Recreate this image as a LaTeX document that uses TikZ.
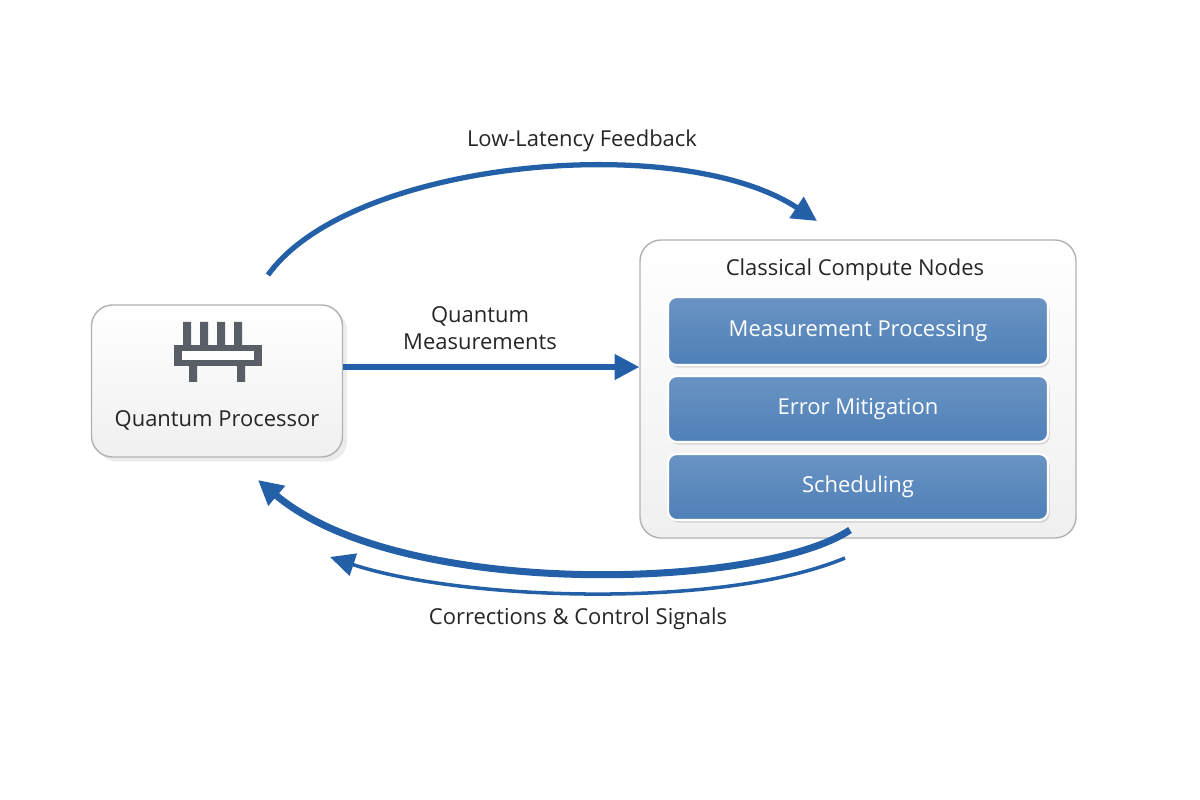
\documentclass[tikz,border=0pt]{standalone}
\usepackage{fontspec}
\setmainfont{Open Sans}
\usetikzlibrary{arrows.meta,shadows}
\definecolor{arr}{HTML}{2460A8}
\definecolor{ibox}{HTML}{4F80B8}
\definecolor{ico}{HTML}{5A5E66}
\begin{document}
\begin{tikzpicture}[x=0.02cm,y=-0.02cm,
 outer/.style={draw=gray!60,rounded corners=12pt,top color=white,bottom color=gray!12,line width=0.8pt},
 inner/.style={draw=white,line width=1.2pt,rounded corners=5pt,top color=ibox!85,bottom color=ibox,drop shadow={opacity=0.25,shadow xshift=1pt,shadow yshift=-1.5pt}},
 lbl/.style={font=\fontsize{12.5}{15}\selectfont,text=black!85},
 itxt/.style={font=\fontsize{12.5}{15}\selectfont,text=white},
 arw/.style={draw=arr,line width=3pt,-{Triangle[length=14pt,width=14pt]}}]
\useasboundingbox (0,0) rectangle (1200,800);
\node[outer,minimum width=251*0.02cm,minimum height=152*0.02cm,drop shadow={opacity=0.15}] (qp) at (217,381) {};
\node[lbl] (qpt) at (217,420) {Quantum Processor};
% icon
\fill[ico] (183,322) rectangle (191,345) (200,322) rectangle (208,345) (217,322) rectangle (225,345) (234,322) rectangle (242,345);
\fill[ico] (174,345) rectangle (262,366);
\fill[white] (182,351) rectangle (254,360);
\fill[ico] (189,366) rectangle (197,382) (237,366) rectangle (245,382);
\node[outer,minimum width=436*0.02cm,minimum height=298*0.02cm] (cc) at (858,389) {};
\node[lbl] (cct) at (855,270) {Classical Compute Nodes};
\node[inner,minimum width=380*0.02cm,minimum height=68*0.02cm] (m) at (858,331) {};
\node[itxt] at (m) {Measurement Processing};
\node[inner,minimum width=380*0.02cm,minimum height=66*0.02cm] (e) at (858,409) {};
\node[itxt] at (e) {Error Mitigation};
\node[inner,minimum width=380*0.02cm,minimum height=66*0.02cm] (s) at (858,487) {};
\node[itxt] at (s) {Scheduling};
\coordinate (t0) at (268,275);
\coordinate (t1) at (817,221);
\draw[arw] (t0) .. controls (350,160) and (680,130) .. (t1);
\node[lbl] (ll) at (582,141) {Low-Latency Feedback};
\coordinate (ms) at ([yshift=0.28cm]qp.east);
\draw[arw] (ms) -- (ms -| cc.west);
\node[lbl,align=center] (qm) at (480,328) {Quantum\\Measurements};
\coordinate (b0) at (850,530);
\coordinate (b1) at (258,480);
\draw[arw,line width=4pt] (b0) .. controls (760,590) and (400,600) .. (b1);
\coordinate (c0) at (845,558);
\coordinate (c1) at (330,557);
\draw[draw=arr,line width=2pt,-{Triangle[length=14pt,width=13pt]}] (c0) .. controls (720,610) and (460,600) .. (c1);
\node[lbl] (cs) at (578,619) {Corrections \& Control Signals};
\end{tikzpicture}
\end{document}
